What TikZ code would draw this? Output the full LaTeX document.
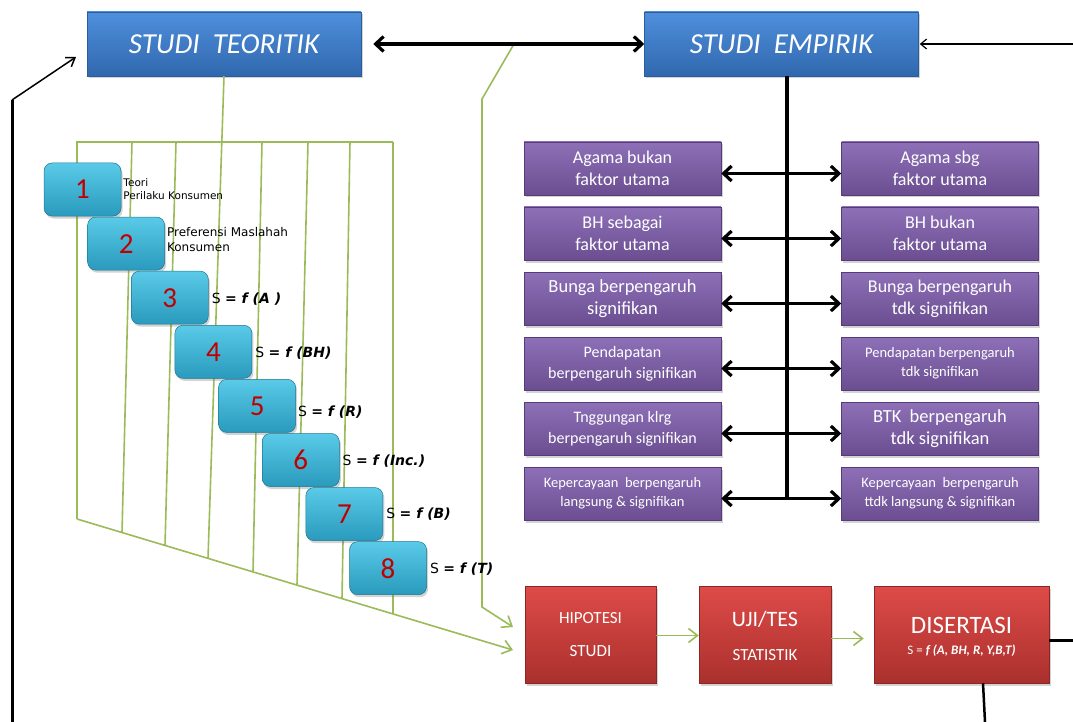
\documentclass[tikz,border=0pt]{standalone}
\usepackage{fontspec}
\setmainfont{Carlito}
\newfontfamily\dvfont{DejaVu Sans}[BoldFont={DejaVu Sans Bold},ItalicFont={DejaVu Sans Oblique},BoldItalicFont={DejaVu Sans Bold Oblique}]
\usetikzlibrary{arrows.meta,shadows}
\definecolor{bluetop}{HTML}{4F8FDC}
\definecolor{bluebot}{HTML}{3068AE}
\definecolor{blueedge}{HTML}{2B5C9C}
\definecolor{purtop}{HTML}{8E70B8}
\definecolor{purbot}{HTML}{6B4D90}
\definecolor{puredge}{HTML}{553C78}
\definecolor{redtop}{HTML}{DE4B48}
\definecolor{redbot}{HTML}{AA302D}
\definecolor{rededge}{HTML}{8A2624}
\definecolor{cyantop}{HTML}{5ACAE8}
\definecolor{cyanbot}{HTML}{2A9ABD}
\definecolor{cyanedge}{HTML}{1E7690}
\definecolor{numred}{HTML}{C00000}
\definecolor{olivegreen}{HTML}{9BBB59}
\newcommand\setfs[2]{\fontsize{#1}{#2}\selectfont}
\begin{document}
\begin{tikzpicture}[x=1pt,y=-1pt,
  shadowed/.style={drop shadow={shadow xshift=1.5pt,shadow yshift=-2.5pt,opacity=0.35}},
  bluebox/.style={shadowed,draw=blueedge,line width=0.5pt,top color=bluetop,bottom color=bluebot,
    minimum width=274pt,minimum height=64pt,inner sep=0pt,text=white,font=\setfs{29}{32}\itshape},
  purbox/.style={shadowed,draw=puredge,line width=0.5pt,top color=purtop,bottom color=purbot,
    minimum width=197pt,minimum height=53pt,inner sep=0pt,text=white,align=center},
  redbox/.style={shadowed,draw=rededge,line width=0.5pt,top color=redtop,bottom color=redbot,
    minimum height=97pt,inner sep=0pt,text=white,align=center},
  redtext/.style={inner sep=0pt,text=white,align=center},
  cybox/.style={shadowed,draw=cyanedge,line width=0.5pt,rounded corners=8pt,top color=cyantop,bottom color=cyanbot,
    minimum width=77pt,minimum height=53pt,inner sep=0pt,text=numred,font=\setfs{29}{30}},
  formula/.style={anchor=west,inner sep=0pt,font=\dvfont\setfs{14}{16}},
  lab/.style={anchor=west,inner sep=0pt,align=left,font=\dvfont\setfs{10.5}{13}},
  gline/.style={draw=olivegreen,line width=1.6pt},
  garrow/.style={gline,-{Straight Barb[length=9pt,width=14pt]}},
  bk/.style={draw=black,line width=3.2pt},
  bkdouble/.style={bk,{Straight Barb[length=8pt,width=15pt]}-{Straight Barb[length=8pt,width=15pt]}},
]
\useasboundingbox (0,0) rectangle (1073,722);

% title boxes
\node[bluebox] (teo) at (224,44) {STUDI\ \ TEORITIK};
\node[bluebox] (emp) at (781.5,44) {STUDI\ \ EMPIRIK};

% green frame
\coordinate (ftl) at (77,142);
\coordinate (ftr) at (393,142);
\coordinate (fbl) at (77,519);
\coordinate (ftip) at (513,650);
\draw[gline] (fbl) -- (ftl) -- (ftr);
\draw[garrow] (fbl) -- (ftip);
\foreach \a/\b/\c in {132/122/532.5,176/165/545.4,262/253/571.9,308/297/585.1,350/342/598.6,393/393/614}
  \draw[gline] (\a,142) -- (\b,\c);
\coordinate (tbot) at (208,558.4);
\draw[gline] (teo.south) -- (tbot);

% green connector from top arrow to HIPOTESI
\coordinate (g0) at (514,44);
\coordinate (g1) at (482,99);
\coordinate (g2) at (482,607);
\coordinate (g3) at (513,627);
\draw[garrow] (g0) -- (g1) -- (g2) -- (g3);

% cyan boxes
\foreach \i in {1,...,8}{
  \pgfmathsetmacro\cx{82.5+43.65*(\i-1)}
  \pgfmathsetmacro\cy{189.5+54.1*(\i-1)}
  \node[cybox] (c\i) at (\cx,\cy) {\i};
}
\node[lab] (t1) at ([xshift=2pt]c1.east) {Teori\\Perilaku Konsumen};
\node[lab,font=\dvfont\setfs{12}{15}] (t2) at ([xshift=2pt,yshift=4pt]c2.east) {Preferensi Maslahah\\Konsumen};
\node[formula] (f3) at ([xshift=3pt,yshift=-1.5pt]c3.east) {S \textbf{\textit{= f (A )}}};
\node[formula] (f4) at ([xshift=3pt,yshift=-1pt]c4.east) {S \textbf{\textit{= f (BH)}}};
\node[formula] (f5) at ([xshift=2pt,yshift=-6pt]c5.east) {S \textbf{\textit{= f (R)}}};
\node[formula] (f6) at ([xshift=3pt,yshift=-1pt]c6.east) {S \textbf{\textit{= f (Inc.)}}};
\node[formula] (f7) at ([xshift=3pt,yshift=-0.5pt]c7.east) {S \textbf{\textit{= f (B)}}};
\node[formula] (f8) at ([xshift=3pt,yshift=-1pt]c8.east) {S \textbf{\textit{= f (T)}}};

% purple boxes
\node[purbox,font=\setfs{18}{22}] (L1) at (622.5,168.5) {Agama bukan\\faktor utama};
\node[purbox,font=\setfs{18}{22}] (L2) at (622.5,233.5) {BH sebagai\\faktor utama};
\node[purbox,font=\setfs{18.5}{22}] (L3) at (622.5,298.5) {Bunga berpengaruh\\signifikan};
\node[purbox,font=\setfs{16}{21}] (L4) at (622.5,363.5) {Pendapatan\\berpengaruh signifikan};
\node[purbox,font=\setfs{16}{21}] (L5) at (622.5,428.5) {Tnggungan klrg\\berpengaruh signifikan};
\node[purbox,font=\setfs{14.5}{19}] (L6) at (622.5,493.5) {Kepercayaan\ \ berpengaruh\\langsung \& signifikan};
\node[purbox,font=\setfs{18}{22}] (R1) at (940,168.5) {Agama sbg\\faktor utama};
\node[purbox,font=\setfs{18}{22}] (R2) at (940,233.5) {BH bukan\\faktor utama};
\node[purbox,font=\setfs{18}{22}] (R3) at (940,298.5) {Bunga berpengaruh\\tdk signifikan};
\node[purbox,font=\setfs{14.5}{19}] (R4) at (940,363.5) {Pendapatan berpengaruh\\tdk signifikan};
\node[purbox,font=\setfs{18.5}{22}] (R5) at (940,428.5) {BTK\ \ berpengaruh\\tdk signifikan};
\node[purbox,font=\setfs{14.5}{19}] (R6) at (940,493.5) {Kepercayaan\ \ berpengaruh\\ttdk langsung \& signifikan};

% red boxes
\node[redbox,minimum width=131pt] (hip) at (590.5,634.5) {};
\node[redbox,minimum width=132pt] (uji) at (765,634.5) {};
\node[redbox,minimum width=175pt] (dis) at (961.5,634.5) {};
\node[redtext,font=\setfs{17}{20}] (hip1) at (590.5,618) {HIPOTESI};
\node[redtext,font=\setfs{17}{20}] (hip2) at (590.5,651) {STUDI};
\node[redtext,font=\setfs{22}{24}] (uji1) at (765,619) {UJI/TES};
\node[redtext,font=\setfs{17}{20}] (uji2) at (765,655) {STATISTIK};
\node[redtext,font=\setfs{25}{28}] (dis1) at (961.5,625) {DISERTASI};
\node[redtext,font=\setfs{13}{15}] (dis2) at (961.5,651) {S = \textbf{\textit{f (A, BH, R, Y,B,T)}}};

% black connectors
\draw[bkdouble] ([xshift=12pt]teo.east) -- (emp.west);
\coordinate (rin) at (1073,44);
\draw[draw=black,line width=1.2pt,-{Straight Barb[length=6pt,width=10pt]}] (rin) -- ([xshift=1pt]emp.east);
\coordinate (vb) at (787,498);
\draw[bk] (vb |- emp.south) -- (vb);
\foreach \i in {1,...,6}
  \draw[bkdouble] ([yshift=-5pt]L\i.east) -- ([yshift=-5pt]R\i.west);
\coordinate (lb0) at (12,722);
\coordinate (lb1) at (12,100);
\coordinate (lb2) at (76,57);
\draw[bk,line width=3pt] (lb0) -- (lb1);
\draw[draw=black,line width=1.5pt,-{Straight Barb[length=8pt,width=11pt]}] (lb1) -- (lb2);
\coordinate (dr) at (1073,640);
\draw[bk,line width=3pt] (dis.east |- dr) -- (dr);
\coordinate (db) at (985,722);
\draw[draw=black,line width=2.5pt] ([xshift=21.5pt]dis.south) -- (db);

% green arrows between red boxes
\draw[garrow] ([yshift=-1pt]hip.east) -- ([yshift=-1pt]uji.west);
\draw[garrow] ([yshift=-4pt]uji.east) -- ([xshift=-10pt,yshift=-4pt]dis.west);
\end{tikzpicture}
\end{document}
